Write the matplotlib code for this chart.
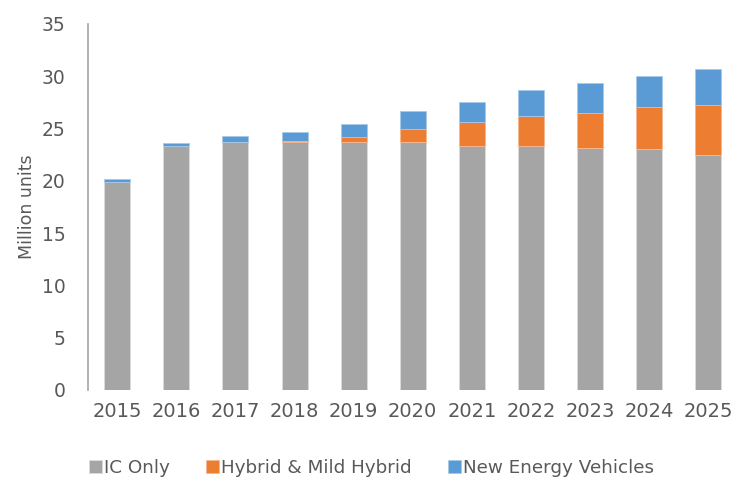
import matplotlib
matplotlib.use("Agg")
import matplotlib.pyplot as plt
import numpy as np

# data (million units)
years = ['2015', '2016', '2017', '2018', '2019', '2020', '2021', '2022', '2023', '2024', '2025']
ic_only = [19.9, 23.35, 23.7, 23.7, 23.7, 23.7, 23.3, 23.3, 23.15, 23.0, 22.45]
hybrid = [0.0, 0.0, 0.0, 0.1, 0.5, 1.25, 2.3, 2.85, 3.35, 4.05, 4.8]
nev = [0.25, 0.3, 0.55, 0.9, 1.25, 1.75, 1.95, 2.5, 2.85, 3.0, 3.4]

text_col = '#595959'
plt.rcParams['font.family'] = ['DejaVu Sans']

fig = plt.figure(figsize=(7.43, 4.79), dpi=100)
ax = fig.add_axes([0.118, 0.186, 0.875, 0.764])

x = np.arange(len(years))
w = 0.44
ic_arr = np.array(ic_only)
hy_arr = np.array(hybrid)
nev_arr = np.array(nev)

ax.bar(x, ic_arr, w, color='#A5A5A5', edgecolor='#dcdcdc', linewidth=0.6, label='IC Only')
ax.bar(x, hy_arr, w, bottom=ic_arr, color='#ED7D31', edgecolor='#f5b890', linewidth=0.6,
       label='Hybrid & Mild Hybrid')
ax.bar(x, nev_arr, w, bottom=ic_arr + hy_arr, color='#5B9BD5', edgecolor='#a9c9ea', linewidth=0.6,
       label='New Energy Vehicles')

ax.set_xlim(-0.5, len(years) - 0.5)
ax.set_ylim(0, 35)
ax.set_yticks(range(0, 36, 5))
ax.set_xticks(x)
ax.set_xticklabels(years)

for s in ['top', 'right', 'bottom']:
    ax.spines[s].set_visible(False)
ax.spines['left'].set_color('#a6a6a6')
ax.spines['left'].set_linewidth(1.2)
ax.tick_params(axis='both', length=0, colors=text_col)
ax.tick_params(axis='x', labelsize=14, pad=9)
ax.tick_params(axis='y', labelsize=13.5, pad=16)

ax.set_ylabel('Million units', fontsize=12.5, color=text_col, labelpad=4)

fig.legend(loc='lower center', bbox_to_anchor=(0.5, -0.03), ncol=3, frameon=False,
           fontsize=13.2, labelcolor=text_col, handlelength=0.7, handleheight=0.7,
           handletextpad=0.1, columnspacing=2.0)

plt.savefig('out.png', dpi=100, facecolor='white')
plt.close()
